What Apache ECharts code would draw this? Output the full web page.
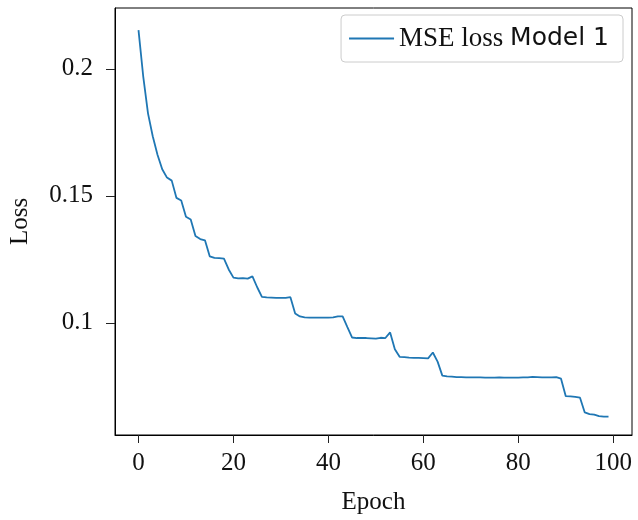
<!DOCTYPE html>
<html>
<head>
<meta charset="utf-8">
<script src="https://cdn.jsdelivr.net/npm/echarts@6/dist/echarts.min.js"></script>
<style>
html,body{margin:0;padding:0;background:#fff;}
#chart{width:638px;height:520px;}
</style>
</head>
<body>
<div id="chart"></div>
<script>
var seriesName = 'MSE loss Model 1';
var xTicks = [0, 20, 40, 60, 80, 100];
var yTicks = [0.1, 0.15, 0.2];
var loss = [
  0.2153, 0.1970, 0.1825, 0.1735, 0.1662, 0.1605, 0.1572, 0.1560, 0.1492, 0.1482,
  0.1418, 0.1407, 0.1342, 0.1330, 0.1325, 0.1262, 0.1256, 0.1255, 0.1253, 0.1210,
  0.1178, 0.1175, 0.1176, 0.1174, 0.1183, 0.1140, 0.1102, 0.1100, 0.1099, 0.1098,
  0.1098, 0.1098, 0.1101, 0.1037, 0.1025, 0.1021, 0.1020, 0.1020, 0.1020, 0.1020,
  0.1020, 0.1021, 0.1025, 0.1025, 0.0983, 0.0942, 0.0940, 0.0940, 0.0940, 0.0939,
  0.0938, 0.0941, 0.0940, 0.0962, 0.0896, 0.0866, 0.0865, 0.0863, 0.0862, 0.0862,
  0.0861, 0.0860, 0.0883, 0.0847, 0.0792, 0.0789, 0.0788, 0.0786, 0.0786, 0.0785,
  0.0785, 0.0785, 0.0785, 0.0784, 0.0784, 0.0784, 0.0785, 0.0784, 0.0784, 0.0784,
  0.0784, 0.0785, 0.0785, 0.0787, 0.0786, 0.0785, 0.0785, 0.0785, 0.0786, 0.0780,
  0.0711, 0.0710, 0.0708, 0.0705, 0.0647, 0.0640, 0.0638, 0.0632, 0.0630, 0.0630
];

var data = loss.map(function (v, i) { return [i, v]; });

var chart = echarts.init(document.getElementById('chart'), null, {renderer: 'canvas'});
var serif = '"Liberation Serif", "DejaVu Serif", serif';
var sans = '"DejaVu Sans", "Liberation Sans", sans-serif';
chart.setOption({
  animation: false,
  backgroundColor: '#fff',
  grid: {left: 115, right: 6, top: 8, bottom: 84, show: true, borderColor: '#000', borderWidth: 1},
  legend: {
    data: [seriesName],
    right: 15, top: 15,
    padding: [10, 14, 10, 8],
    icon: 'rect',
    itemWidth: 45, itemHeight: 2, itemGap: 8,
    borderColor: '#cccccc', borderWidth: 1, borderRadius: 4,
    formatter: function () { return '{a|MSE loss }{b|Model 1}'; },
    textStyle: {
      rich: {
        a: {fontFamily: serif, fontSize: 27, color: '#111'},
        b: {fontFamily: sans, fontSize: 25, color: '#111'}
      }
    }
  },
  xAxis: {
    type: 'value', min: -4.95, max: 103.95,
    name: 'Epoch', nameLocation: 'middle', nameGap: 55,
    nameTextStyle: {fontFamily: serif, fontSize: 25, color: '#111'},
    axisLine: {show: true, onZero: false, lineStyle: {color: '#000', width: 1}},
    axisTick: {show: true, inside: false, length: 8, customValues: xTicks, lineStyle: {color: '#222'}},
    axisLabel: {customValues: xTicks, margin: 16, fontFamily: serif, fontSize: 25, color: '#111'},
    splitLine: {show: false}
  },
  yAxis: {
    type: 'value', min: 0.0558, max: 0.224,
    name: 'Loss', nameLocation: 'middle', nameGap: 82,
    nameTextStyle: {fontFamily: serif, fontSize: 25, color: '#111'},
    axisLine: {show: true, onZero: false, lineStyle: {color: '#000', width: 1}},
    axisTick: {show: true, inside: false, length: 9, customValues: yTicks, lineStyle: {color: '#222'}},
    axisLabel: {
      customValues: yTicks, margin: 22, fontFamily: serif, fontSize: 25, color: '#111',
      formatter: function (v) { return String(parseFloat(v.toFixed(3))); }
    },
    splitLine: {show: false}
  },
  series: [{
    name: seriesName,
    type: 'line',
    data: data,
    symbol: 'none',
    showSymbol: false,
    lineStyle: {color: '#1f77b4', width: 1.8},
    itemStyle: {color: '#1f77b4'}
  }]
});
</script>
</body>
</html>
